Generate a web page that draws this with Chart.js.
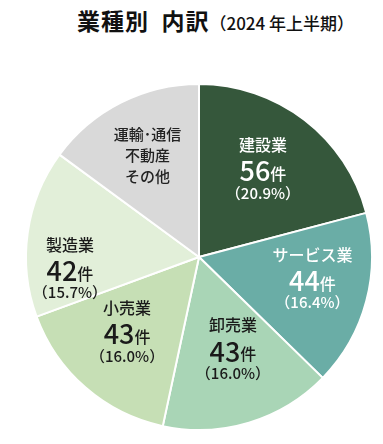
<!DOCTYPE html>
<html>
<head>
<meta charset="utf-8">
<script src="https://cdn.jsdelivr.net/npm/chart.js@4"></script>
<style>
  body { margin: 0; background: #fff; width: 383px; height: 444px; overflow: hidden; }
  #title { position: absolute; left: 77px; top: 0; height: 40px;
           font-family: "Noto Sans CJK JP", sans-serif; color: #111; line-height: 40px; white-space: nowrap; }
  #title .main { font-size: 23px; font-weight: 700; letter-spacing: 1px; }
  #title .sub { font-size: 17px; font-weight: 500; }
  #wrap { position: absolute; left: 0; top: 40px; width: 383px; height: 404px; }
</style>
</head>
<body>
<div id="title"><span class="main">業種別&nbsp;&nbsp;内訳</span><span class="sub">（2024 年上半期）</span></div>
<div id="wrap"><canvas id="chart" width="383" height="404"></canvas></div>
<script>
// data
const categories = ["建設業", "サービス業", "卸売業", "小売業", "製造業", "運輸･通信 不動産 その他"];
const counts = [56, 44, 43, 43, 42, 40];
const percents = ["20.9%", "16.4%", "16.0%", "16.0%", "15.7%", null];
const nameLines = [["建設業"], ["サービス業"], ["卸売業"], ["小売業"], ["製造業"], ["運輸･通信", "不動産", "その他"]];

const sliceColors = ["#35573b", "#6aada6", "#a9d5b6", "#c6dfb5", "#e2efd9", "#d9d9d9"];
const textColors = ["#fff", "#fff", "#1a1a1a", "#1a1a1a", "#1a1a1a", "#222"];
// label placement: radius fraction and angle shift (degrees) from the slice middle
const labelRadius = [0.62, 0.67, 0.58, 0.61, 0.75, 0.66];
const labelShift = [-1, -3, -3, 2, -14, 0];

const FONT = '"Noto Sans CJK JP", sans-serif';

const sliceLabels = {
    id: "sliceLabels",
    afterDatasetsDraw(chart) {
        const ctx = chart.ctx;
        const arcs = chart.getDatasetMeta(0).data;
        ctx.save();
        ctx.textAlign = "center";
        ctx.textBaseline = "middle";
        arcs.forEach((arc, i) => {
            const mid = (arc.startAngle + arc.endAngle) / 2 + labelShift[i] * Math.PI / 180;
            const r = arc.outerRadius * labelRadius[i];
            const cx = arc.x + Math.cos(mid) * r;
            const cy = arc.y + Math.sin(mid) * r;
            ctx.fillStyle = textColors[i];
            if (percents[i] === null) {
                ctx.font = "500 15px " + FONT;
                nameLines[i].forEach((line, k) => ctx.fillText(line, cx, cy + (k - 1) * 21));
                return;
            }
            ctx.font = "500 16px " + FONT;
            ctx.fillText(nameLines[i][0], cx, cy - 26);
            // count in big digits followed by small 件
            const num = String(counts[i]);
            ctx.font = "500 27px " + FONT;
            const wNum = ctx.measureText(num).width;
            ctx.font = "500 16px " + FONT;
            const wKen = ctx.measureText("件").width;
            const x0 = cx - (wNum + wKen) / 2;
            ctx.textAlign = "left";
            ctx.font = "500 27px " + FONT;
            ctx.fillText(num, x0, cy);
            ctx.font = "500 16px " + FONT;
            ctx.fillText("件", x0 + wNum, cy + 3);
            ctx.textAlign = "center";
            ctx.font = "500 15px " + FONT;
            ctx.fillText("（" + percents[i] + "）", cx, cy + 22);
        });
        ctx.restore();
    }
};

new Chart(document.getElementById("chart"), {
    type: "pie",
    data: {
        labels: categories,
        datasets: [{
            data: counts,
            backgroundColor: sliceColors,
            borderColor: "#fff",
            borderWidth: 2
        }]
    },
    options: {
        responsive: false,
        animation: false,
        layout: { padding: { left: 25, right: 10, top: 43, bottom: 13 } },
        plugins: {
            legend: { display: false },
            tooltip: { enabled: false },
            title: { display: false }
        }
    },
    plugins: [sliceLabels]
});
</script>
</body>
</html>
